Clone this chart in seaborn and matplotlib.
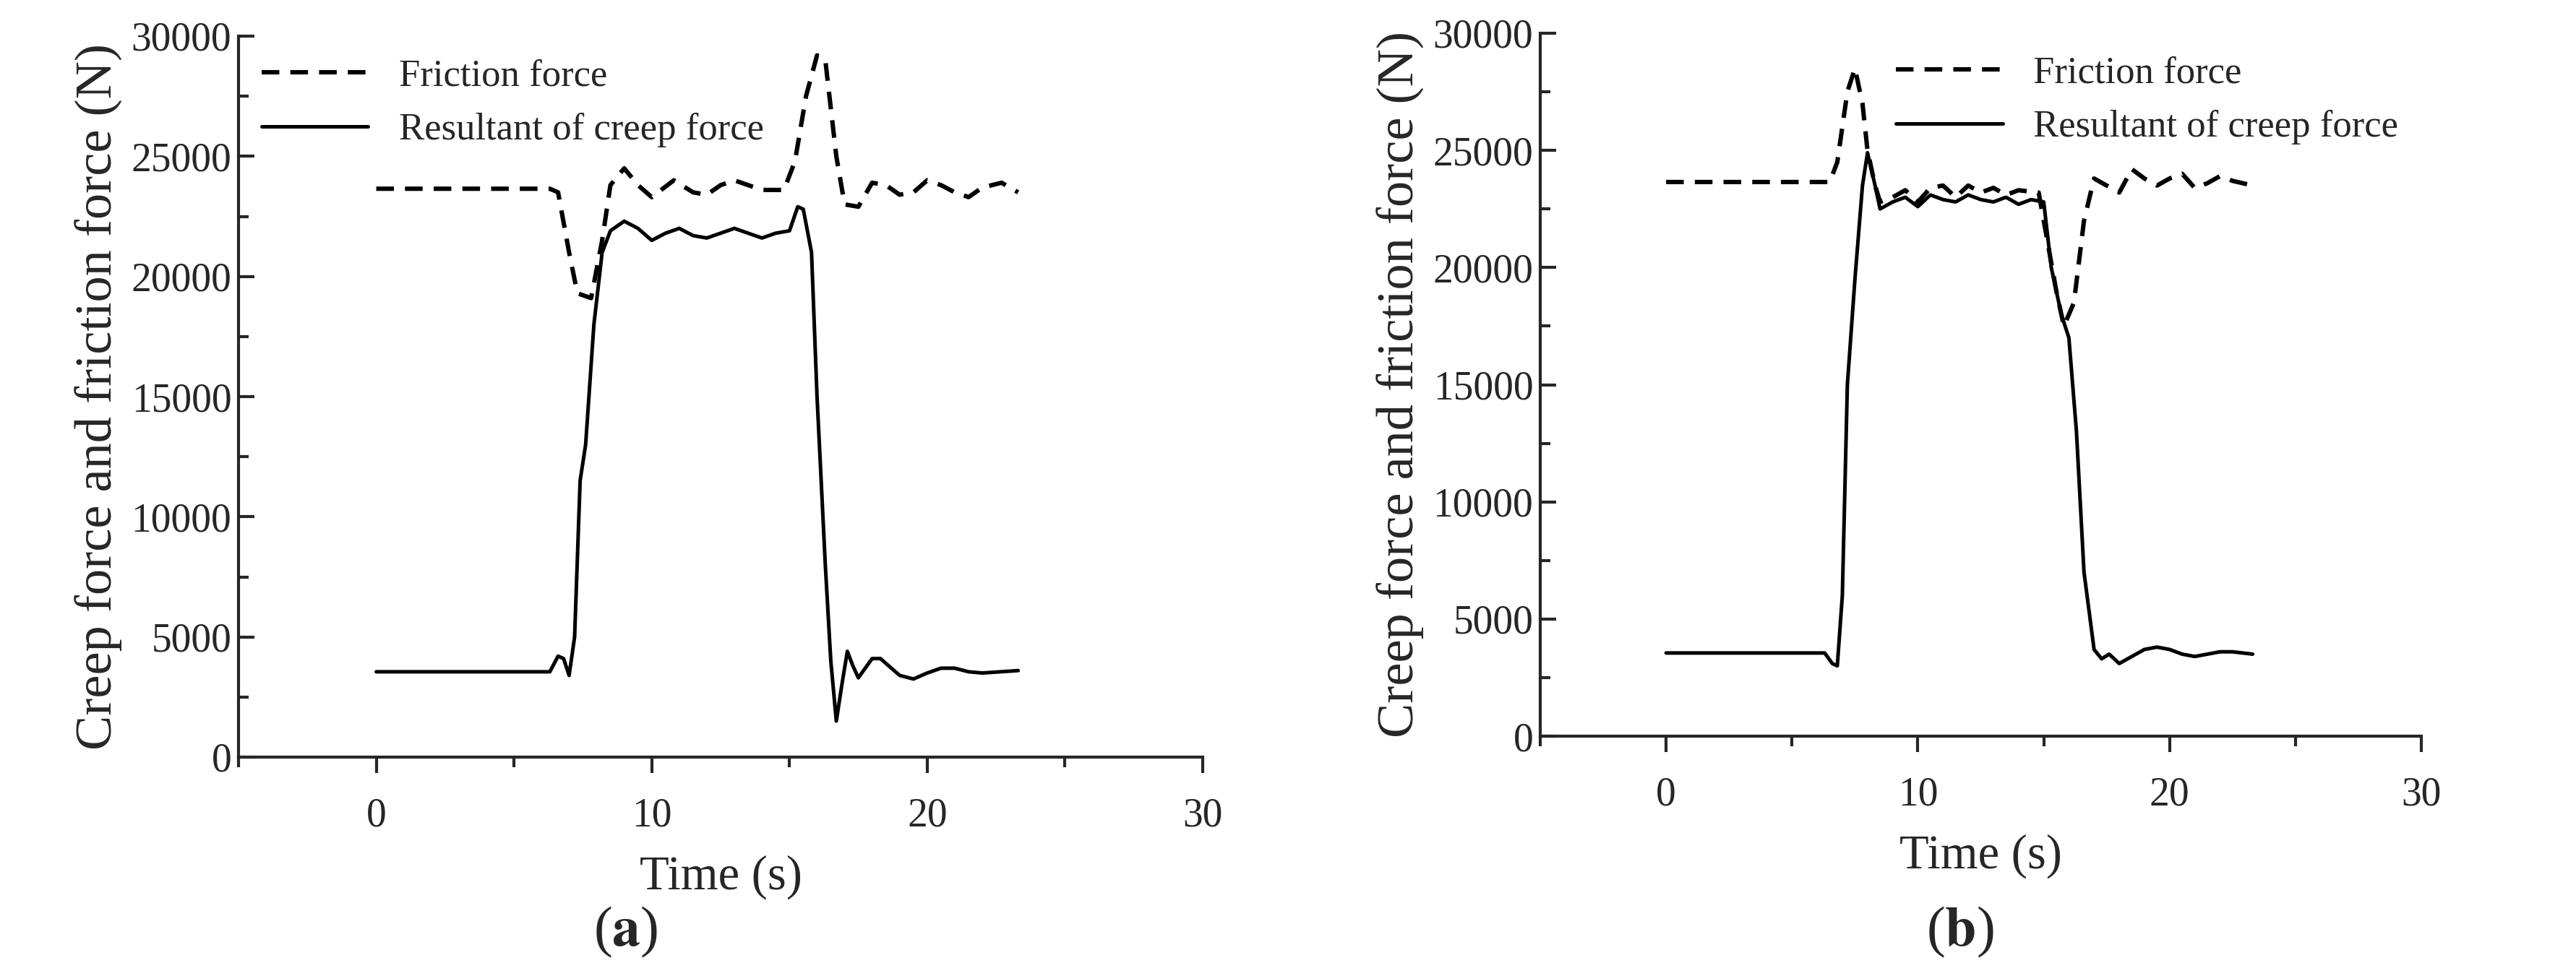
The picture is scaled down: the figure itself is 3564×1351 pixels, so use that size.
import numpy as np
import pandas as pd
import seaborn as sns
import matplotlib.pyplot as plt
from matplotlib.ticker import MultipleLocator

# panel (a)
a_fric_t = [0, 6.3, 6.6, 7.0, 7.3, 7.8, 8.2, 8.5, 9.0, 9.5, 10.0, 10.8, 11.5, 12.0, 12.5, 13.0, 14.0, 14.8,
            15.2, 15.6, 16.0, 16.3, 16.7, 17.0, 17.5, 18.0, 18.5, 19.0, 19.5, 20.0, 20.5, 21.0, 21.5, 22.0, 22.7, 23.0, 23.3]
a_fric_v = [23650, 23650, 23500, 21000, 19300, 19100, 21500, 23800, 24500, 23800, 23300, 24000, 23500, 23400, 23800, 24000, 23600, 23600,
            24800, 27500, 29200, 29000, 25000, 23000, 22900, 23900, 23800, 23400, 23500, 24000, 23800, 23500, 23300, 23700, 23900, 23700, 23500]
a_res_t = [0, 6.3, 6.6, 6.8, 7.0, 7.2, 7.4, 7.6, 7.9, 8.2, 8.5, 9.0, 9.5, 10.0, 10.5, 11.0, 11.5, 12.0, 12.5, 13.0, 13.5, 14.0, 14.5, 15.0,
           15.3, 15.5, 15.8, 16.0, 16.3, 16.5, 16.7, 16.9, 17.1, 17.3, 17.5, 18.0, 18.3, 19.0, 19.5, 20.0, 20.5, 21.0, 21.5, 22.0, 23.3]
a_res_v = [3550, 3550, 4200, 4100, 3400, 5000, 11500, 13000, 18000, 21000, 21900, 22300, 22000, 21500, 21800, 22000, 21700, 21600, 21800, 22000, 21800, 21600, 21800, 21900,
           22900, 22800, 21000, 15000, 8000, 4000, 1500, 3000, 4400, 3800, 3300, 4100, 4100, 3400, 3250, 3500, 3700, 3700, 3550, 3500, 3600]

# panel (b)
b_fric_t = [0, 6.5, 6.8, 7.2, 7.5, 7.8, 8.0, 8.3, 8.5, 9.0, 9.5, 10.0, 10.5, 11.0, 11.5, 12.0, 12.5, 13.0, 13.5, 14.0, 14.8, 15.0, 15.5,
            15.8, 16.2, 16.6, 17.0, 17.5, 18.0, 18.5, 19.0, 19.5, 20.0, 20.5, 21.0, 21.5, 22.0, 22.5, 23.3]
b_fric_v = [23650, 23650, 24500, 27500, 28500, 27000, 25000, 23500, 22800, 23000, 23300, 22800, 23400, 23500, 23000, 23500, 23200, 23400, 23100, 23300, 23200, 22000, 19000,
            17500, 18500, 22000, 23800, 23500, 23200, 24200, 23800, 23500, 23800, 24000, 23400, 23600, 23900, 23700, 23500]
b_res_t = [0, 6.3, 6.6, 6.8, 7.0, 7.2, 7.5, 7.8, 8.0, 8.3, 8.5, 9.0, 9.5, 10.0, 10.5, 11.0, 11.5, 12.0, 12.5, 13.0, 13.5, 14.0, 14.5, 15.0,
           15.3, 15.7, 16.0, 16.3, 16.6, 17.0, 17.3, 17.6, 18.0, 18.5, 19.0, 19.5, 20.0, 20.5, 21.0, 21.5, 22.0, 22.5, 23.3]
b_res_v = [3550, 3550, 3100, 3000, 6000, 15000, 19500, 23500, 24900, 23500, 22500, 22800, 23000, 22600, 23100, 22900, 22800, 23100, 22900, 22800, 23000, 22700, 22900, 22800,
           20000, 18000, 17000, 13000, 7000, 3700, 3300, 3500, 3100, 3400, 3700, 3800, 3700, 3500, 3400, 3500, 3600, 3600, 3500]

sns.set_style("ticks")
plt.rcParams['font.family'] = ['Liberation Serif', 'DejaVu Serif']
plt.rcParams['mathtext.fontset'] = 'stix'

fig = plt.figure(figsize=(17.82, 6.755), dpi=200)
ax_a = fig.add_axes([330 / 3564, 1 - 1048 / 1351, 1334 / 3564, 998 / 1351])
ax_b = fig.add_axes([2131 / 3564, 1 - 1019 / 1351, 1219 / 3564, 973 / 1351])

panels = [
    (ax_a, a_fric_t, a_fric_v, a_res_t, a_res_v, "upper left", "a", 380 / 1564),
    (ax_b, b_fric_t, b_fric_v, b_res_t, b_res_v, "upper right", "b", 1190 / 1564),
]
for ax, ft, fv, rt, rv, loc, tag, tx in panels:
    sns.lineplot(x=ft, y=fv, ax=ax, color="black", lw=2.2, linestyle=(0, (4, 2.5)), label="Friction force")
    sns.lineplot(x=rt, y=rv, ax=ax, color="black", lw=1.8, label="Resultant of creep force")
    ax.set_xlim(-5, 30)
    ax.set_ylim(0, 30000)
    ax.xaxis.set_major_locator(MultipleLocator(10))
    ax.xaxis.set_minor_locator(MultipleLocator(5))
    ax.yaxis.set_major_locator(MultipleLocator(5000))
    ax.yaxis.set_minor_locator(MultipleLocator(2500))
    ax.tick_params(axis="y", which="both", direction="in", labelsize=20)
    ax.tick_params(axis="x", which="both", direction="out", labelsize=20, pad=12)
    ax.tick_params(which="major", length=8, width=1.5)
    ax.tick_params(which="minor", length=5, width=1.5)
    for s in ("left", "bottom"):
        ax.spines[s].set_linewidth(1.5)
    sns.despine(ax=ax)
    ax.set_xlabel("Time (s)", fontsize=24, labelpad=10)
    ax.set_ylabel("Creep force and friction force (N)", fontsize=26)
    ax.legend(loc=loc, frameon=False, fontsize=19, handlelength=2.8, borderaxespad=0.2)
    fig.text(tx, 0.045, r"($\mathbf{" + tag + "}$)", ha="center", va="center", fontsize=28)

fig.savefig("out.png", dpi=200)
